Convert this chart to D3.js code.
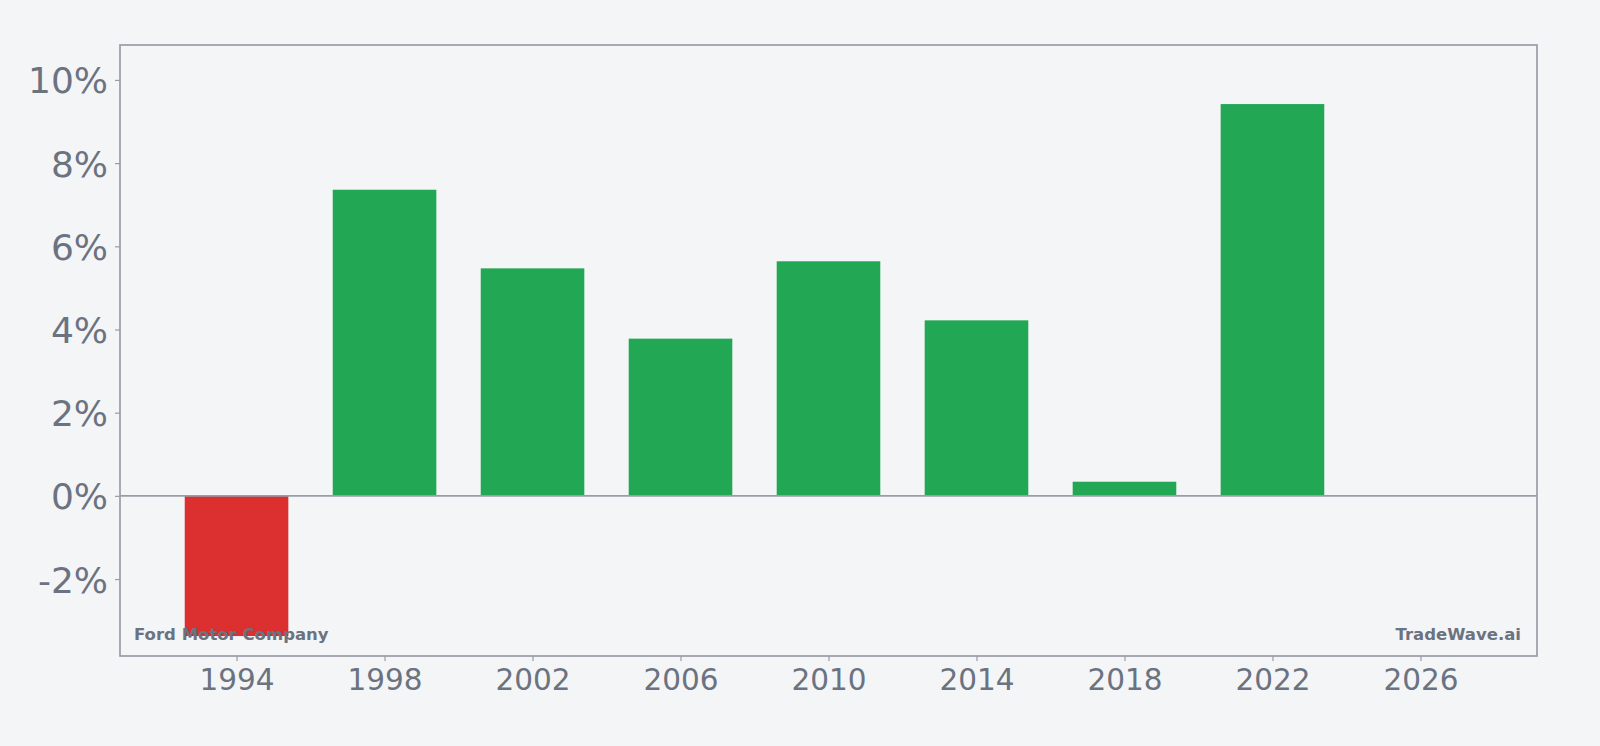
<!DOCTYPE html>
<html>
<head>
<meta charset="utf-8">
<script src="https://cdn.jsdelivr.net/npm/d3@7"></script>
<style>
  html, body { margin: 0; padding: 0; background: #f4f5f7; }
  svg { display: block; font-family: "DejaVu Sans", sans-serif; }
</style>
</head>
<body>
<div id="chart"></div>
<script>
// Data
var years = [1994, 1998, 2002, 2006, 2010, 2014, 2018, 2022];
var growth = [-3.37, 7.36, 5.47, 3.78, 5.64, 4.22, 0.34, 9.42];
var xTicks = [1994, 1998, 2002, 2006, 2010, 2014, 2018, 2022, 2026];
var yTicks = [-2, 0, 2, 4, 6, 8, 10];

var W = 1600, H = 746;
var margin = { top: 45, right: 63, bottom: 90, left: 120 },
    width = W - margin.left - margin.right,
    height = H - margin.top - margin.bottom;

var frameColor = "#9a9ca6", textColor = "#6b7280";

var svg = d3.select("#chart")
  .append("svg")
    .attr("width", W)
    .attr("height", H);

svg.append("rect")
  .attr("width", W).attr("height", H)
  .attr("fill", "#f4f5f7");

var g = svg.append("g")
  .attr("transform", "translate(" + margin.left + "," + margin.top + ")");

var x = d3.scaleLinear()
  .domain([1990.85, 2029.15])
  .range([0, width]);

var y = d3.scaleLinear()
  .domain([-3.85, 10.84])
  .range([height, 0]);

var barW = 2.8; // years

// bars
g.selectAll("rect.bar")
  .data(years)
  .enter()
  .append("rect")
    .attr("class", "bar")
    .attr("x", function (d) { return x(d - barW / 2); })
    .attr("width", function (d) { return x(d + barW / 2) - x(d - barW / 2); })
    .attr("y", function (d, i) { return y(Math.max(0, growth[i])); })
    .attr("height", function (d, i) { return Math.abs(y(growth[i]) - y(0)); })
    .attr("fill", function (d, i) { return growth[i] < 0 ? "#dc2f2f" : "#22a854"; });

// zero line
g.append("line")
  .attr("x1", 0).attr("x2", width)
  .attr("y1", y(0)).attr("y2", y(0))
  .attr("stroke", frameColor)
  .attr("stroke-width", 1.7);

// axes
var xAxis = g.append("g")
  .attr("transform", "translate(0," + height + ")")
  .call(d3.axisBottom(x).tickValues(xTicks).tickFormat(d3.format("d")).tickSize(5).tickPadding(8));

var yAxis = g.append("g")
  .call(d3.axisLeft(y).tickValues(yTicks).tickFormat(function (d) { return d + "%"; }).tickSize(5).tickPadding(7));

[xAxis, yAxis].forEach(function (a) {
  a.select(".domain").remove();
  a.selectAll(".tick line").attr("stroke", frameColor).attr("stroke-width", 1.2);
  a.selectAll(".tick text").attr("fill", textColor).style("font-family", "DejaVu Sans, sans-serif");
});
xAxis.selectAll(".tick text").style("font-size", "29.5px");
yAxis.selectAll(".tick text").style("font-size", "36px").attr("dy", "0.36em");

// frame
g.append("rect")
  .attr("width", width).attr("height", height)
  .attr("fill", "none")
  .attr("stroke", frameColor)
  .attr("stroke-width", 1.7);

// watermarks
g.append("text")
  .attr("x", 14)
  .attr("y", height - 16)
  .attr("fill", textColor)
  .style("font-size", "16.5px")
  .style("font-weight", "bold")
  .text("Ford Motor Company");

g.append("text")
  .attr("x", width - 16)
  .attr("y", height - 16)
  .attr("text-anchor", "end")
  .attr("fill", textColor)
  .style("font-size", "16.5px")
  .style("font-weight", "bold")
  .text("TradeWave.ai");
</script>
</body>
</html>
